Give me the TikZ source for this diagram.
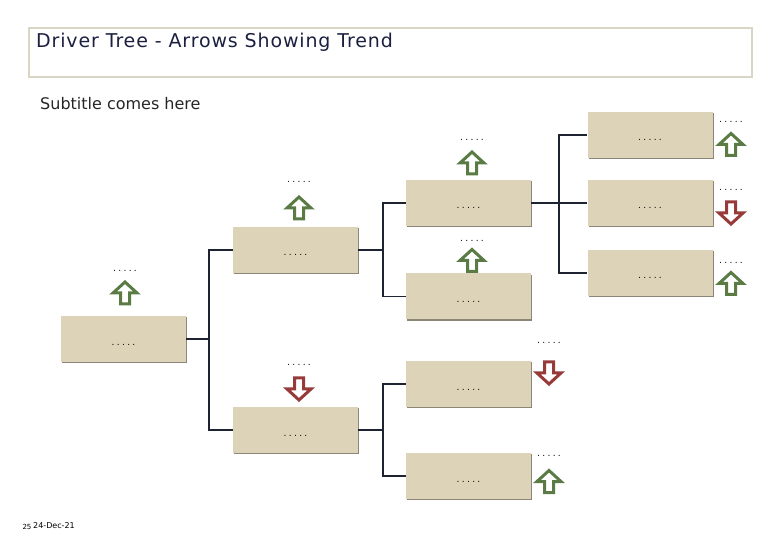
\documentclass[tikz,border=0pt]{standalone}
\usepackage{fontspec}
\setmainfont{DejaVu Sans}
\usetikzlibrary{shadows}
\begin{document}
\definecolor{boxfill}{RGB}{220,211,184}
\definecolor{boxshade}{RGB}{140,134,120}
\definecolor{trendgreen}{RGB}{91,123,69}
\definecolor{trendred}{RGB}{150,58,58}
\definecolor{linkcol}{RGB}{30,35,50}
\definecolor{titleframe}{RGB}{218,214,198}
\definecolor{titletext}{RGB}{27,32,64}
\begin{tikzpicture}[x=1pt,y=-1pt,
  tbox/.style={rectangle,fill=boxfill,minimum width=125pt,minimum height=46pt,inner sep=0pt,
    text height=12pt,text depth=0pt,font=\fontsize{9}{9}\selectfont\addfontfeature{LetterSpace=26},
    drop shadow={shadow xshift=1.3pt,shadow yshift=-1.3pt,fill=boxshade,opacity=1}},
  dotlbl/.style={inner sep=0pt,font=\fontsize{9}{9}\selectfont\addfontfeature{LetterSpace=26}},
  link/.style={draw=linkcol,line width=1.3pt},
  trendup/.pic={\draw[trendgreen,line width=3pt,fill=white] (0,-11)--(12,0)--(4.5,0)--(4.5,11)--(-4.5,11)--(-4.5,0)--(-12,0)--cycle;},
  trenddown/.pic={\draw[trendred,line width=3pt,fill=white] (0,11)--(12,0)--(4.5,0)--(4.5,-11)--(-4.5,-11)--(-4.5,0)--(-12,0)--cycle;}]
\useasboundingbox (0,0) rectangle (780,540);
%\draw[help lines,step=20] (0,0) grid (780,540);
% heading
\draw[titleframe,line width=1.1pt] (29,28) rectangle (752,77);
\node[anchor=base west,inner sep=0pt,text=titletext,font=\fontsize{19}{19}\selectfont\addfontfeature{LetterSpace=4.5}] (title) at (36,48) {Driver Tree - Arrows Showing Trend};
\node[anchor=base west,inner sep=0pt,text=black!85,font=\fontsize{16}{16}\selectfont] (subtitle) at (40,110) {Subtitle comes here};

% boxes
\node[tbox] (root) at (123.5,339) {.....};
\node[tbox] (a1) at (295.5,250) {.....};
\node[tbox] (a2) at (295.5,430) {.....};
\node[tbox] (b1) at (468.5,203) {.....};
\node[tbox] (b2) at (468.5,296.5) {.....};
\node[tbox] (c1) at (468.5,384) {.....};
\node[tbox] (c2) at (468.5,476) {.....};
\node[tbox] (d1) at (650,135) {.....};
\node[tbox] (d2) at (650,203) {.....};
\node[tbox] (d3) at (650,273) {.....};

% links
\coordinate (j0) at (209,339);
\coordinate (j1) at (383,250);
\coordinate (j2) at (383,430);
\coordinate (j3) at (559,203);
\draw[link] (root.east) -- (j0);
\draw[link] (a1.west) -| (j0) |- (a2.west);
\draw[link] (a1.east) -- (j1);
\draw[link] (b1.west) -| (j1) |- (b2.west);
\draw[link] (a2.east) -- (j2);
\draw[link] (c1.west) -| (j2) |- (c2.west);
\draw[link] (b1.east) -- (d2.west);
\draw[link] (d1.west) -| (j3) |- (d3.west);

% trend arrows
\pic at (125,293) {trendup};     \node[dotlbl] (rootv) at (125,271) {.....};
\pic at (299,208) {trendup};     \node[dotlbl] (a1v) at (299,182) {.....};
\pic at (299,389) {trenddown};   \node[dotlbl] (a2v) at (299,365) {.....};
\pic at (472,163) {trendup};     \node[dotlbl] (b1v) at (472,140) {.....};
\pic at (472,260.5) {trendup};   \node[dotlbl] (b2v) at (472,241) {.....};
\pic at (549,373) {trenddown};   \node[dotlbl] (c1v) at (549,343) {.....};
\pic at (549,481.5) {trendup};   \node[dotlbl] (c2v) at (549,456) {.....};
\pic at (731,144.5) {trendup};   \node[dotlbl] (d1v) at (731,122) {.....};
\pic at (731,213) {trenddown};   \node[dotlbl] (d2v) at (731,190) {.....};
\pic at (731,283.5) {trendup};   \node[dotlbl] (d3v) at (731,263) {.....};

% footer
\node[anchor=base,inner sep=0pt,font=\fontsize{7}{7}\selectfont] (page) at (27,529) {25};
\node[anchor=base west,inner sep=0pt,font=\fontsize{8}{8}\selectfont] (date) at (33,528) {24-Dec-21};
\end{tikzpicture}
\end{document}
